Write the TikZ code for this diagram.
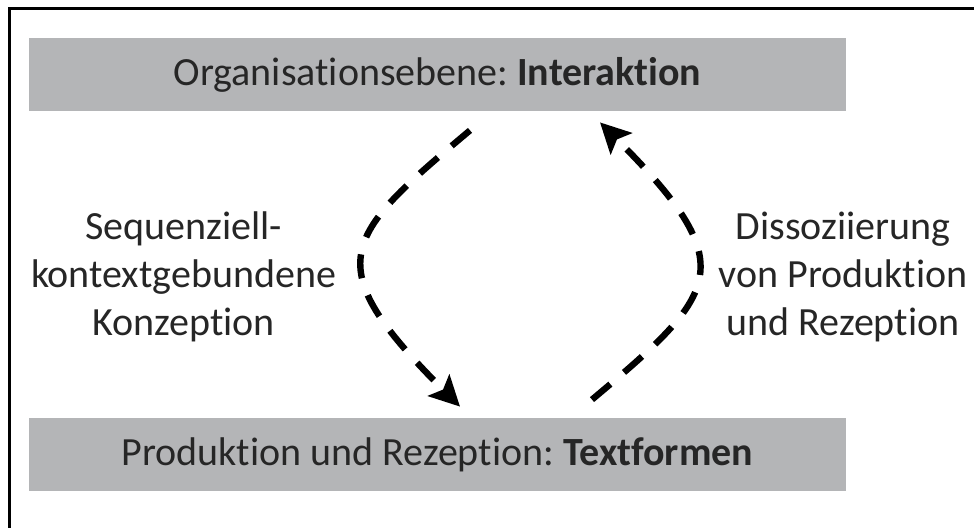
\documentclass[tikz,border=0pt]{standalone}
\usepackage{fontspec}
\setmainfont{Carlito}[Ligatures=NoCommon]
\usetikzlibrary{arrows.meta}
\definecolor{boxgray}{RGB}{180,181,183}
\definecolor{textgray}{RGB}{38,38,38}
\frenchspacing

\begin{document}
\begin{tikzpicture}[
    x=0.5pt, y=-0.5pt,
    >={Stealth[length=15pt, width=15pt, inset=3pt]},
    ebene/.style={fill=boxgray, minimum width=408.5pt, minimum height=36.5pt, inner sep=0pt, text=textgray, font=\fontsize{20pt}{24pt}\selectfont},
    lbl/.style={align=center, text=textgray, font=\fontsize{20pt}{24pt}\selectfont},
    flow/.style={->, line width=3.2pt, dash pattern=on 12pt off 9pt}
]

% frame (only top and left edge are visible)
\useasboundingbox (0,0) rectangle (974,528);
\clip (0,0) rectangle (974,528);
\draw[line width=1.5pt] (9,540) -- (9,9) -- (990,9);

% the two levels
\node[ebene] (oben) at (437.5,74.5) {Organisationsebene: \textbf{Interaktion}};
\node[ebene] (unten) at (437.5,454.5) {Produktion und Rezeption: \textbf{Textformen}};

% labels beside the arrows
\node[lbl] (links) at (183.5,277) {Sequenziell-\\kontextgebundene\\Konzeption};
\node[lbl] (rechts) at (843,277) {Dissoziierung\\von Produktion\\und Rezeption};

% dashed arrows
\draw[flow] ([shift={(16.25pt,-9.5pt)}]oben.south) to[out=220, in=135, out distance=83.5pt, in distance=101.5pt] ([shift={(11.25pt,5.5pt)}]unten.north);
\draw[flow] ([shift={(77.25pt,9pt)}]unten.north) to[out=40, in=-45, out distance=83.5pt, in distance=101.5pt] ([shift={(81.25pt,-5.5pt)}]oben.south);

\end{tikzpicture}
\end{document}
